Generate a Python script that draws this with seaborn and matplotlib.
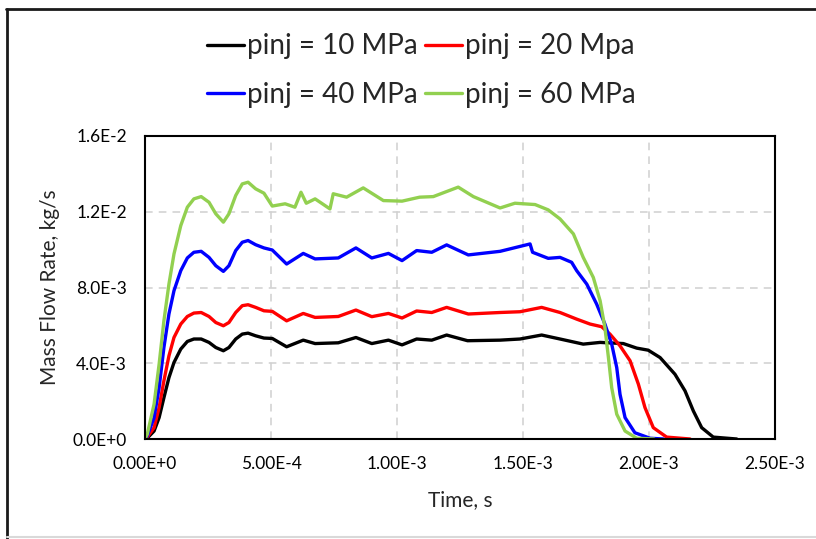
import matplotlib
matplotlib.use("Agg")
import matplotlib.pyplot as plt
import matplotlib.ticker as mticker
from matplotlib.lines import Line2D
import seaborn as sns
import pandas as pd

# ------------------------------------- DATA -------------------------------------
# time in units of 1E-4 s, mass flow rate in units of 1E-3 kg/s
T_UNIT = 1e-4
M_UNIT = 1e-3

labels = ["pinj = 10 MPa", "pinj = 20 Mpa", "pinj = 40 MPa", "pinj = 60 MPa"]
colors = ["#000000", "#FF0000", "#0000FF", "#92D050"]

t_10 = [0, 0.09, 0.36, 0.56, 0.75, 0.95, 1.15, 1.42, 1.68, 1.94, 2.23, 2.54, 2.81, 3.11,
        3.33, 3.6, 3.86, 4.09, 4.39, 4.72, 5.05, 5.62, 6.28, 6.75, 7.67, 8.37, 9.0,
        9.66, 10.2, 10.78, 11.38, 11.97, 12.8, 14.09, 14.88, 15.74, 16.47, 17.39,
        18.06, 18.98, 19.51, 19.97, 20.44, 21.03, 21.43, 21.76, 22.09, 22.55, 23.48]
m_10 = [0, 0.05, 0.42, 1.13, 2.18, 3.24, 4.04, 4.75, 5.15, 5.28, 5.28, 5.1, 4.83, 4.66,
        4.83, 5.28, 5.54, 5.59, 5.45, 5.33, 5.31, 4.87, 5.22, 5.04, 5.08, 5.36, 5.04,
        5.22, 4.97, 5.28, 5.22, 5.49, 5.19, 5.22, 5.28, 5.49, 5.28, 5.01,
        5.1, 5.04, 4.8, 4.69, 4.3, 3.42, 2.54, 1.48, 0.6, 0.1, 0.0]

t_20 = [0, 0.09, 0.36, 0.56, 0.75, 0.95, 1.15, 1.42, 1.68, 1.94, 2.23, 2.54, 2.81, 3.11,
        3.33, 3.6, 3.86, 4.09, 4.39, 4.72, 5.05, 5.62, 6.28, 6.75, 7.67, 8.37, 9.0,
        9.66, 10.2, 10.78, 11.38, 11.97, 12.83, 14.09, 14.88, 15.74, 16.47, 17.13,
        17.66, 18.12, 18.45, 18.85, 19.25, 19.58, 19.84, 20.17, 20.7, 21.63]
m_20 = [0, 0.1, 0.6, 1.66, 3.07, 4.39, 5.36, 6.07, 6.47, 6.65, 6.68, 6.47, 6.15, 5.98,
        6.15, 6.68, 7.04, 7.09, 6.95, 6.77, 6.74, 6.24, 6.63, 6.42, 6.47, 6.81, 6.46,
        6.63, 6.39, 6.76, 6.68, 6.95, 6.6, 6.68, 6.72, 6.95, 6.68, 6.33,
        6.07, 5.93, 5.54, 4.92, 4.13, 2.89, 1.66, 0.6, 0.1, 0.0]

t_40 = [0, 0.09, 0.36, 0.56, 0.75, 0.95, 1.15, 1.42, 1.68, 1.94, 2.23, 2.54, 2.81, 3.11,
        3.33, 3.6, 3.86, 4.09, 4.39, 4.72, 5.05, 5.62, 6.28, 6.75, 7.67, 8.37, 9.0,
        9.66, 10.2, 10.78, 11.38, 11.97, 12.83, 14.09, 15.28, 15.38, 16.0, 16.47,
        16.93, 17.13, 17.53, 17.92, 18.25, 18.52, 18.72, 18.85, 19.05, 19.44, 20.04, 20.57]
m_40 = [0, 0.16, 1.13, 2.71, 4.83, 6.6, 7.83, 8.89, 9.56, 9.86, 9.91, 9.59, 9.15, 8.85,
        9.15, 9.95, 10.39, 10.48, 10.26, 10.09, 9.98, 9.24, 9.8, 9.51, 9.56, 10.09, 9.56,
        9.8, 9.42, 9.95, 9.86, 10.25, 9.72, 9.91, 10.3, 9.86, 9.54, 9.59,
        9.33, 8.89, 8.18, 7.13, 6.07, 5.01, 3.77, 2.36, 1.13, 0.33, 0.04, 0.0]

t_60 = [0, 0.09, 0.36, 0.56, 0.75, 0.95, 1.15, 1.42, 1.68, 1.94, 2.23, 2.54, 2.81, 3.11,
        3.33, 3.6, 3.86, 4.09, 4.39, 4.72, 5.05, 5.56, 5.95, 6.19, 6.4, 6.75, 7.34,
        7.47, 8.0, 8.66, 9.46, 10.2, 10.9, 11.44, 12.43, 13.03, 14.09, 14.68, 15.48,
        16.0, 16.47, 17.0, 17.39, 17.79, 18.06, 18.25, 18.39, 18.52, 18.72, 19.05,
        19.51, 20.2]
m_60 = [0, 0.25, 1.84, 3.95, 6.24, 8.18, 9.77, 11.27, 12.24, 12.68, 12.8, 12.5, 11.89, 11.45,
        11.89, 12.86, 13.47, 13.56, 13.21, 12.98, 12.3, 12.42, 12.24, 13.03, 12.45, 12.68, 12.15,
        12.95, 12.77, 13.26, 12.59, 12.56, 12.77, 12.8, 13.3, 12.8, 12.2, 12.45, 12.38,
        12.1, 11.62, 10.83, 9.59, 8.53, 7.3, 5.89, 4.3, 2.71, 1.31, 0.42,
        0.04, 0.0]

x_ticks = [0, 5e-4, 1e-3, 1.5e-3, 2e-3, 2.5e-3]
y_ticks = [0, 4e-3, 8e-3, 1.2e-2, 1.6e-2]


def sci(v, digits):
    # Excel-like scientific label: 4.0E-3, 0.00E+0
    s = f"{v:.{digits}E}"
    mant, exp = s.split("E")
    return f"{mant}E{int(exp):+d}"


# build long table for seaborn
frames = []
for lab, t, m in zip(labels, [t_10, t_20, t_40, t_60], [m_10, m_20, m_40, m_60]):
    frames.append(pd.DataFrame({"time": [v * T_UNIT for v in t],
                                "flow": [v * M_UNIT for v in m],
                                "case": lab}))
df = pd.concat(frames, ignore_index=True)

# ------------------------------------- PLOT -------------------------------------
sns.set_style("white")
plt.rcParams["font.family"] = ["Lato", "DejaVu Sans"]

fig = plt.figure(figsize=(8.16, 5.39), dpi=100)
ax = fig.add_axes([145 / 816, 100 / 539, 630 / 816, 303 / 539])

sns.lineplot(data=df, x="time", y="flow", hue="case", hue_order=labels,
             palette=colors, estimator=None, sort=False, linewidth=2.4, ax=ax)
for ln in ax.get_lines():
    ln.set_solid_joinstyle("round")

ax.set_xlim(0, 2.5e-3)
ax.set_ylim(0, 1.6e-2)
ax.set_xticks(x_ticks)
ax.set_yticks(y_ticks)
ax.xaxis.set_major_formatter(mticker.FuncFormatter(lambda v, p: sci(v, 2)))
ax.yaxis.set_major_formatter(mticker.FuncFormatter(lambda v, p: sci(v, 1)))
ax.tick_params(length=0, labelsize=12.5, colors="#000000")
ax.tick_params(axis="y", pad=13)
ax.tick_params(axis="x", pad=12)

ax.grid(True, color="#D0D0D0", linestyle=(0, (5, 4)), linewidth=1.1)
ax.set_axisbelow(True)
for sp in ax.spines.values():
    sp.set_visible(True)
    sp.set_color("#000000")
    sp.set_linewidth(1.5)

ax.set_xlabel("Time, s", fontsize=15, labelpad=13)
ax.set_ylabel("Mass Flow Rate, kg/s", fontsize=15, labelpad=9)

# legend: two rows (10, 20) / (40, 60); matplotlib fills column-wise
handles, labs = ax.get_legend_handles_labels()
ax.get_legend().remove()
order = [0, 2, 1, 3]
fig.legend([handles[i] for i in order], [labs[i] for i in order],
           loc="upper center", bbox_to_anchor=(0.516, 0.964), ncol=2,
           frameon=False, fontsize=20, handlelength=1.35, handletextpad=0.1,
           columnspacing=0.25, labelspacing=0.82, borderpad=0)

# outer chart frame (top / left dark, bottom light)
fig.add_artist(Line2D([6 / 816, 1], [1 - 9 / 539, 1 - 9 / 539],
                      transform=fig.transFigure, color="#1a1a1a", linewidth=2))
fig.add_artist(Line2D([7 / 816, 7 / 816], [0, 1 - 9 / 539],
                      transform=fig.transFigure, color="#1a1a1a", linewidth=2))
fig.add_artist(Line2D([7 / 816, 1], [2 / 539, 2 / 539],
                      transform=fig.transFigure, color="#D9D9D9", linewidth=1.5))

fig.savefig("out.png", dpi=100)
